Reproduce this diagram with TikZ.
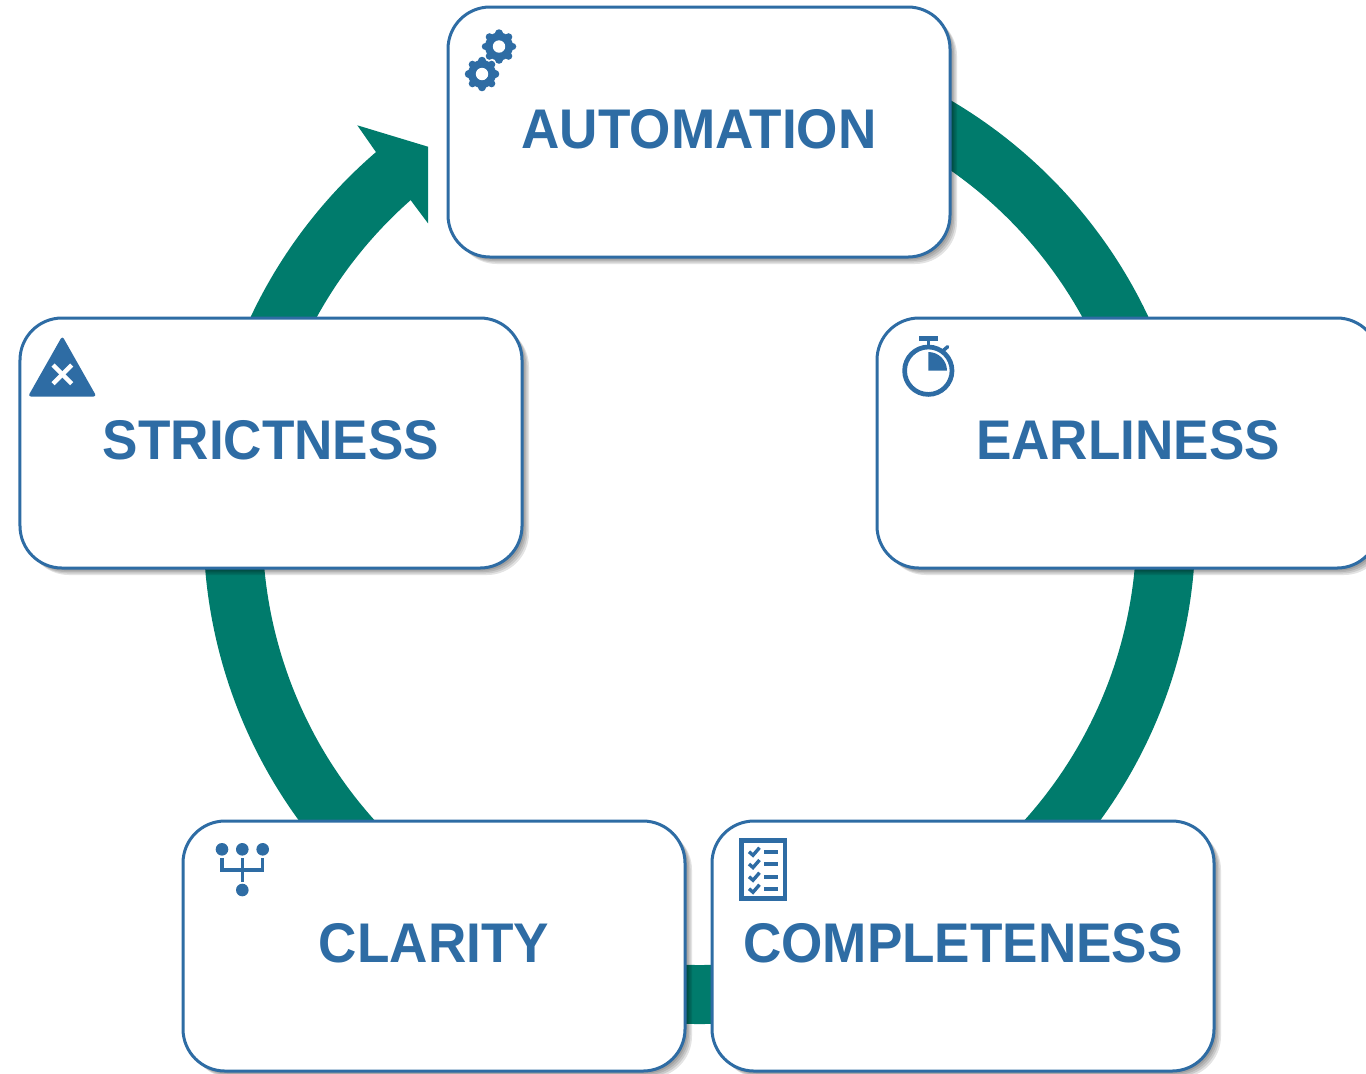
\documentclass[tikz,border=0pt]{standalone}
\usepackage{xcolor}
\usepackage{fontspec}
\setmainfont[FakeStretch=0.95]{Liberation Sans}
\usetikzlibrary{shadows,backgrounds,positioning,calc}
\definecolor{steel}{RGB}{46,108,164}
\definecolor{teal}{RGB}{0,123,108}

\tikzset{
    gearicon/.pic={
        \fill[steel] (0,0) circle (0.14);
        \foreach \a in {0,45,...,315}
            \draw[steel, line width=0.075cm, line cap=round] (\a:0.1) -- (\a:0.135);
        \fill[white] (0,0) circle (0.062);
    },
    checkicon/.pic={
        \draw[steel, line width=0.034cm] (-0.05,0) -- (-0.01,-0.035) -- (0.055,0.04);
        \fill[steel] (0.10,-0.02) rectangle (0.24,0.02);
    },
    softshadow/.style={drop shadow={shadow xshift=#1, shadow yshift=-#1, fill=black, opacity=0.11}}
}

\begin{document}
\begin{tikzpicture}[
    card/.style={rectangle, draw=steel, fill=white, line width=0.03cm, rounded corners=0.42cm,
        minimum width=5.02cm, minimum height=2.5cm, outer sep=0pt, text=steel, text depth=0.06cm,
        font=\fontsize{15.9}{19}\selectfont\bfseries,
        softshadow=0.07cm, softshadow=0.055cm, softshadow=0.04cm, softshadow=0.025cm, softshadow=0.01cm},
    ring/.style={teal, line width=0.59cm}
]
    \useasboundingbox (0,0) rectangle (13.66,-10.73);

    \node[card, anchor=north west] (automation) at (4.48,-0.07) {AUTOMATION};
    \node[card, below right=0.61cm and -0.73cm of automation] (earliness) {EARLINESS};
    \node[card, below left=0.61cm and -0.74cm of automation] (strictness) {STRICTNESS};
    \node[card, below right=2.53cm and -3.39cm of strictness] (clarity) {CLARITY};
    \node[card, right=0.27cm of clarity] (completeness) {COMPLETENESS};

    \coordinate (ringcentre) at (6.995,-5.28);
    \coordinate (ptautomation) at ($(ringcentre)+(90:4.665)$);
    \coordinate (ptearliness) at ($(ringcentre)+(10:4.665)$);
    \coordinate (ptcompleteness) at ($(ringcentre)+(-50:4.665)$);
    \coordinate (ptclarity) at ($(ringcentre)+(230:4.665)$);
    \coordinate (ptstrictness) at ($(ringcentre)+(170:4.665)$);
    \coordinate (ptarrow) at ($(ringcentre)+(130.5:4.665)$);

    \begin{scope}[on background layer]
        \draw[ring] (ptautomation) to[out=0, in=100, out distance=2.264cm, in distance=2.264cm] (ptearliness);
        \draw[ring] (ptearliness) to[out=-80, in=40, out distance=1.667cm, in distance=1.667cm] (ptcompleteness);
        \draw[ring] (ptcompleteness) to[out=-140, in=-40, out distance=2.264cm, in distance=2.264cm] (ptclarity);
        \draw[ring] (ptclarity) to[out=140, in=260, out distance=1.667cm, in distance=1.667cm] (ptstrictness);
        \draw[ring] (ptstrictness) to[out=80, in=220.5, out distance=1.083cm, in distance=1.083cm] (ptarrow);
        \fill[teal] (3.75,-1.507) -- (3.573,-1.253) -- (4.28,-1.467) -- (4.28,-2.233) -- (4.093,-1.983) -- cycle;
    \end{scope}

    \pic at (4.99,-0.465) {gearicon};
    \pic at (4.82,-0.74) {gearicon};

    \draw[steel, line width=0.047cm] (9.283,-3.707) circle (0.237);
    \fill[steel] (9.19,-3.36) rectangle (9.38,-3.407);
    \draw[steel, line width=0.035cm] (9.283,-3.40) -- (9.283,-3.47);
    \draw[steel, line width=0.035cm, line cap=round] (9.43,-3.507) -- (9.477,-3.467);
    \fill[steel] (9.283,-3.707) -- (9.283,-3.52) arc[start angle=90, end angle=0, radius=0.187] -- cycle;

    \draw[steel, line width=0.047cm] (7.414,-8.407) rectangle (7.85,-8.983);
    \foreach \y in {8.517,8.64,8.767,8.887}
        \pic at (7.54,-\y) {checkicon};

    \foreach \x in {2.22,2.423,2.627}
        \fill[steel] (\x,-8.493) circle (0.063);
    \fill[steel] (2.423,-8.90) circle (0.063);
    \draw[steel, line width=0.033cm] (2.22,-8.58) -- (2.22,-8.70) -- (2.627,-8.70) -- (2.627,-8.58);
    \draw[steel, line width=0.033cm] (2.423,-8.58) -- (2.423,-8.82);

    \fill[steel, rounded corners=0.03cm] (0.623,-3.36) -- (0.965,-3.965) -- (0.28,-3.965) -- cycle;
    \draw[white, line width=0.045cm] (0.53,-3.65) -- (0.717,-3.837);
    \draw[white, line width=0.045cm] (0.717,-3.65) -- (0.53,-3.837);
\end{tikzpicture}
\end{document}
